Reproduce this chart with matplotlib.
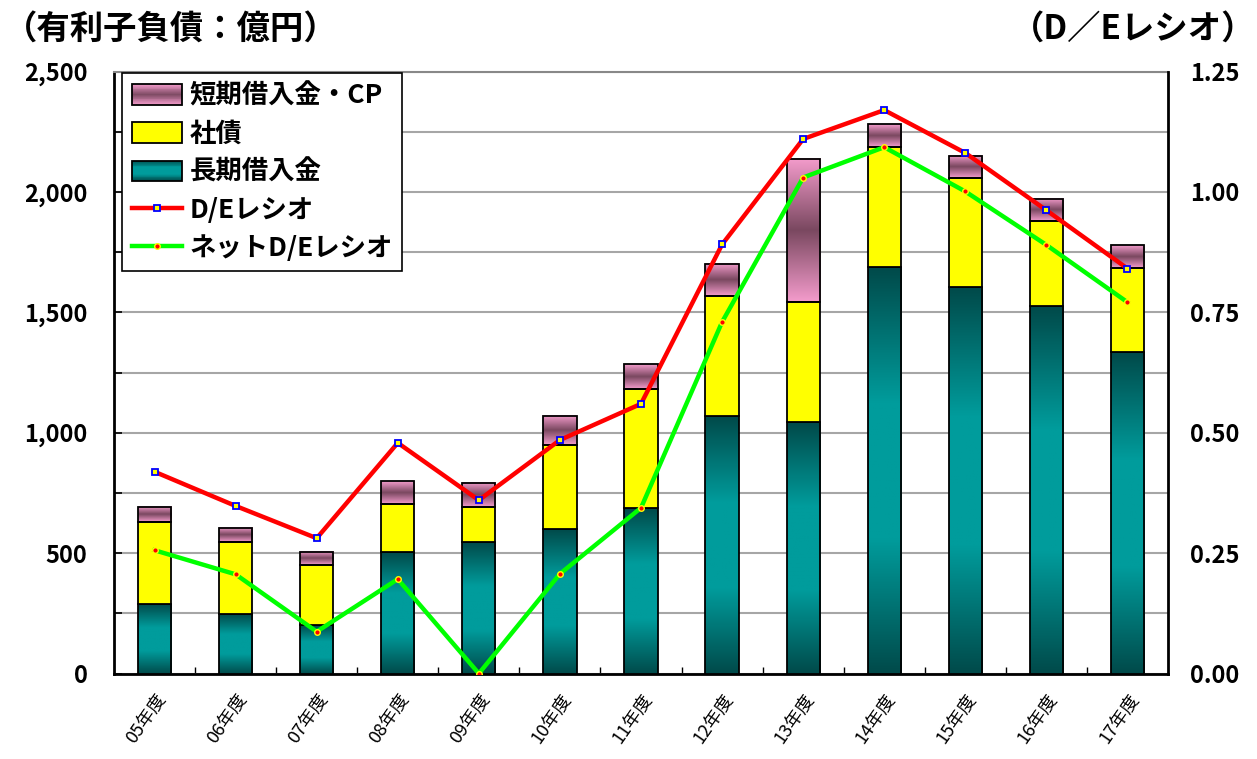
import matplotlib
matplotlib.use("Agg")
import matplotlib.pyplot as plt
import numpy as np
from matplotlib.colors import LinearSegmentedColormap
from matplotlib.legend_handler import HandlerBase
from matplotlib.lines import Line2D
from matplotlib.patches import Patch, Rectangle
from matplotlib.ticker import FuncFormatter, MultipleLocator

plt.rcParams['font.family'] = ['Noto Sans CJK JP', 'DejaVu Sans']

years = ["05年度", "06年度", "07年度", "08年度", "09年度", "10年度", "11年度",
         "12年度", "13年度", "14年度", "15年度", "16年度", "17年度"]
long_term = [287, 247, 201, 505, 546, 599, 686, 1071, 1043, 1687, 1606, 1527, 1334]
bonds = [343, 298, 250, 198, 144, 350, 497, 495, 499, 501, 450, 351, 350]
short_term = [63, 60, 55, 95, 102, 122, 101, 135, 596, 95, 94, 94, 95]
de_ratio = [0.419, 0.348, 0.281, 0.479, 0.360, 0.485, 0.560, 0.891, 1.110, 1.170, 1.081, 0.962, 0.841]
net_de_ratio = [0.256, 0.206, 0.087, 0.196, 0.0, 0.207, 0.344, 0.730, 1.030, 1.093, 1.001, 0.890, 0.771]

teal_cmap = LinearSegmentedColormap.from_list("teal", ["#004a4a", "#009c9c", "#009c9c", "#004a4a"])
pink_cmap = LinearSegmentedColormap.from_list("pink", ["#f49ccc", "#7a4860", "#f49ccc"])


class GradientHandler(HandlerBase):
    def __init__(self, cmap):
        super().__init__()
        self.cmap = cmap

    def create_artists(self, legend, orig_handle, xdescent, ydescent, width, height, fontsize, trans):
        out = []
        n = 24
        for i in range(n):
            out.append(Rectangle((-xdescent, -ydescent + i * height / n), width, height / n,
                                 facecolor=self.cmap((i + 0.5) / n), edgecolor="none", transform=trans))
        out.append(Rectangle((-xdescent, -ydescent), width, height, facecolor="none",
                             edgecolor="black", linewidth=1.3, transform=trans))
        return out


fig = plt.figure(figsize=(12.57, 7.59), dpi=100)
ax = fig.add_axes([0.0907, 0.1126, 0.8385, 0.7931])

x = np.arange(len(years))
w = 0.41
bottom2 = np.array(long_term) + np.array(bonds)

b1 = ax.bar(x, long_term, w, facecolor="none", edgecolor="black", linewidth=1.3, zorder=4)
b2 = ax.bar(x, bonds, w, bottom=long_term, facecolor="#ffff00", edgecolor="black", linewidth=1.3, zorder=4)
b3 = ax.bar(x, short_term, w, bottom=bottom2, facecolor="none", edgecolor="black", linewidth=1.3, zorder=4)

grad = np.linspace(0, 1, 256).reshape(-1, 1)
for bars, cmap in [(b1, teal_cmap), (b3, pink_cmap)]:
    for p in bars.patches:
        x0, y0 = p.get_x(), p.get_y()
        ax.imshow(grad, cmap=cmap, aspect="auto", origin="lower",
                  extent=(x0, x0 + p.get_width(), y0, y0 + p.get_height()), zorder=3)

ax.set_xlim(-0.5, len(years) - 0.5)
ax.set_ylim(0, 2500)
ax.yaxis.set_major_locator(MultipleLocator(500))
ax.yaxis.set_minor_locator(MultipleLocator(250))
ax.yaxis.set_major_formatter(FuncFormatter(lambda v, _: f"{int(v):,}"))
ax.grid(axis="y", which="both", color="#a6a6a6", linewidth=1.5, zorder=0)
ax.set_axisbelow(True)
ax.set_xticks(x)
ax.set_xticklabels(years, rotation=55, ha="right", va="top", rotation_mode="anchor",
                   fontsize=13)
ax.set_xticks(x[:-1] + 0.5, minor=True)
ax.tick_params(axis="x", which="major", length=0, pad=12)
ax.tick_params(axis="x", which="minor", direction="in", length=5, width=1)
ax.tick_params(axis="y", which="both", direction="in", length=6, width=1.2,
               labelsize=17, pad=19)
for lab in ax.get_yticklabels():
    lab.set_fontweight("bold")

for s in ["left", "bottom"]:
    ax.spines[s].set_linewidth(2)
ax.spines["top"].set_color("#888888")
ax.spines["top"].set_linewidth(1.5)
ax.spines["right"].set_visible(False)

ax2 = ax.twinx()
ax2.set_ylim(0, 1.25)
ax2.yaxis.set_major_locator(MultipleLocator(0.25))
ax2.yaxis.set_major_formatter(FuncFormatter(lambda v, _: f"{v:.2f}"))
ax2.tick_params(axis="y", direction="in", length=0, labelsize=17, pad=16)
for lab in ax2.get_yticklabels():
    lab.set_fontweight("bold")
ax2.spines["right"].set_linewidth(2)
ax2.spines["top"].set_visible(False)
ax2.spines["left"].set_visible(False)
ax2.spines["bottom"].set_visible(False)

ax2.plot(x, de_ratio, color="#ff0000", linewidth=3.2, marker="s", markersize=5,
         markerfacecolor="#ffff00", markeredgecolor="#0000ff", markeredgewidth=1.3, zorder=5)
ax2.plot(x, net_de_ratio, color="#00ff00", linewidth=3.2, marker="o", markersize=4,
         markerfacecolor="#ff0000", markeredgecolor="#ffff00", markeredgewidth=1, zorder=5)

h_short = Patch(facecolor="#b06c8c", edgecolor="black")
h_bond = Patch(facecolor="#ffff00", edgecolor="black", linewidth=1.3)
h_long = Patch(facecolor="#007878", edgecolor="black")
handles = [
    h_short, h_bond, h_long,
    Line2D([], [], color="#ff0000", linewidth=3.2, marker="s", markersize=5,
           markerfacecolor="#ffff00", markeredgecolor="#0000ff", markeredgewidth=1.3),
    Line2D([], [], color="#00ff00", linewidth=3.2, marker="o", markersize=4,
           markerfacecolor="#ff0000", markeredgecolor="#ffff00", markeredgewidth=1),
]
labels = ["短期借入金・CP", "社債", "長期借入金", "D/Eレシオ", "ネットD/Eレシオ"]
leg = ax2.legend(handles, labels, loc="upper left", bbox_to_anchor=(0.008, 0.997),
                 handler_map={h_short: GradientHandler(pink_cmap), h_long: GradientHandler(teal_cmap)},
                 fancybox=False, framealpha=1, edgecolor="black",
                 prop={"size": 19, "weight": "bold"}, handlelength=1.9,
                 handleheight=0.8, handletextpad=0.3, labelspacing=0.42,
                 borderpad=0.35, borderaxespad=0)
leg.get_frame().set_linewidth(1.2)

fig.text(0.003, 0.962, "（有利子負債：億円）", fontsize=24, fontweight="bold", va="center", ha="left")
fig.text(0.999, 0.962, "（D／Eレシオ）", fontsize=24, fontweight="bold", va="center", ha="right")

fig.savefig("out.png", dpi=100)
